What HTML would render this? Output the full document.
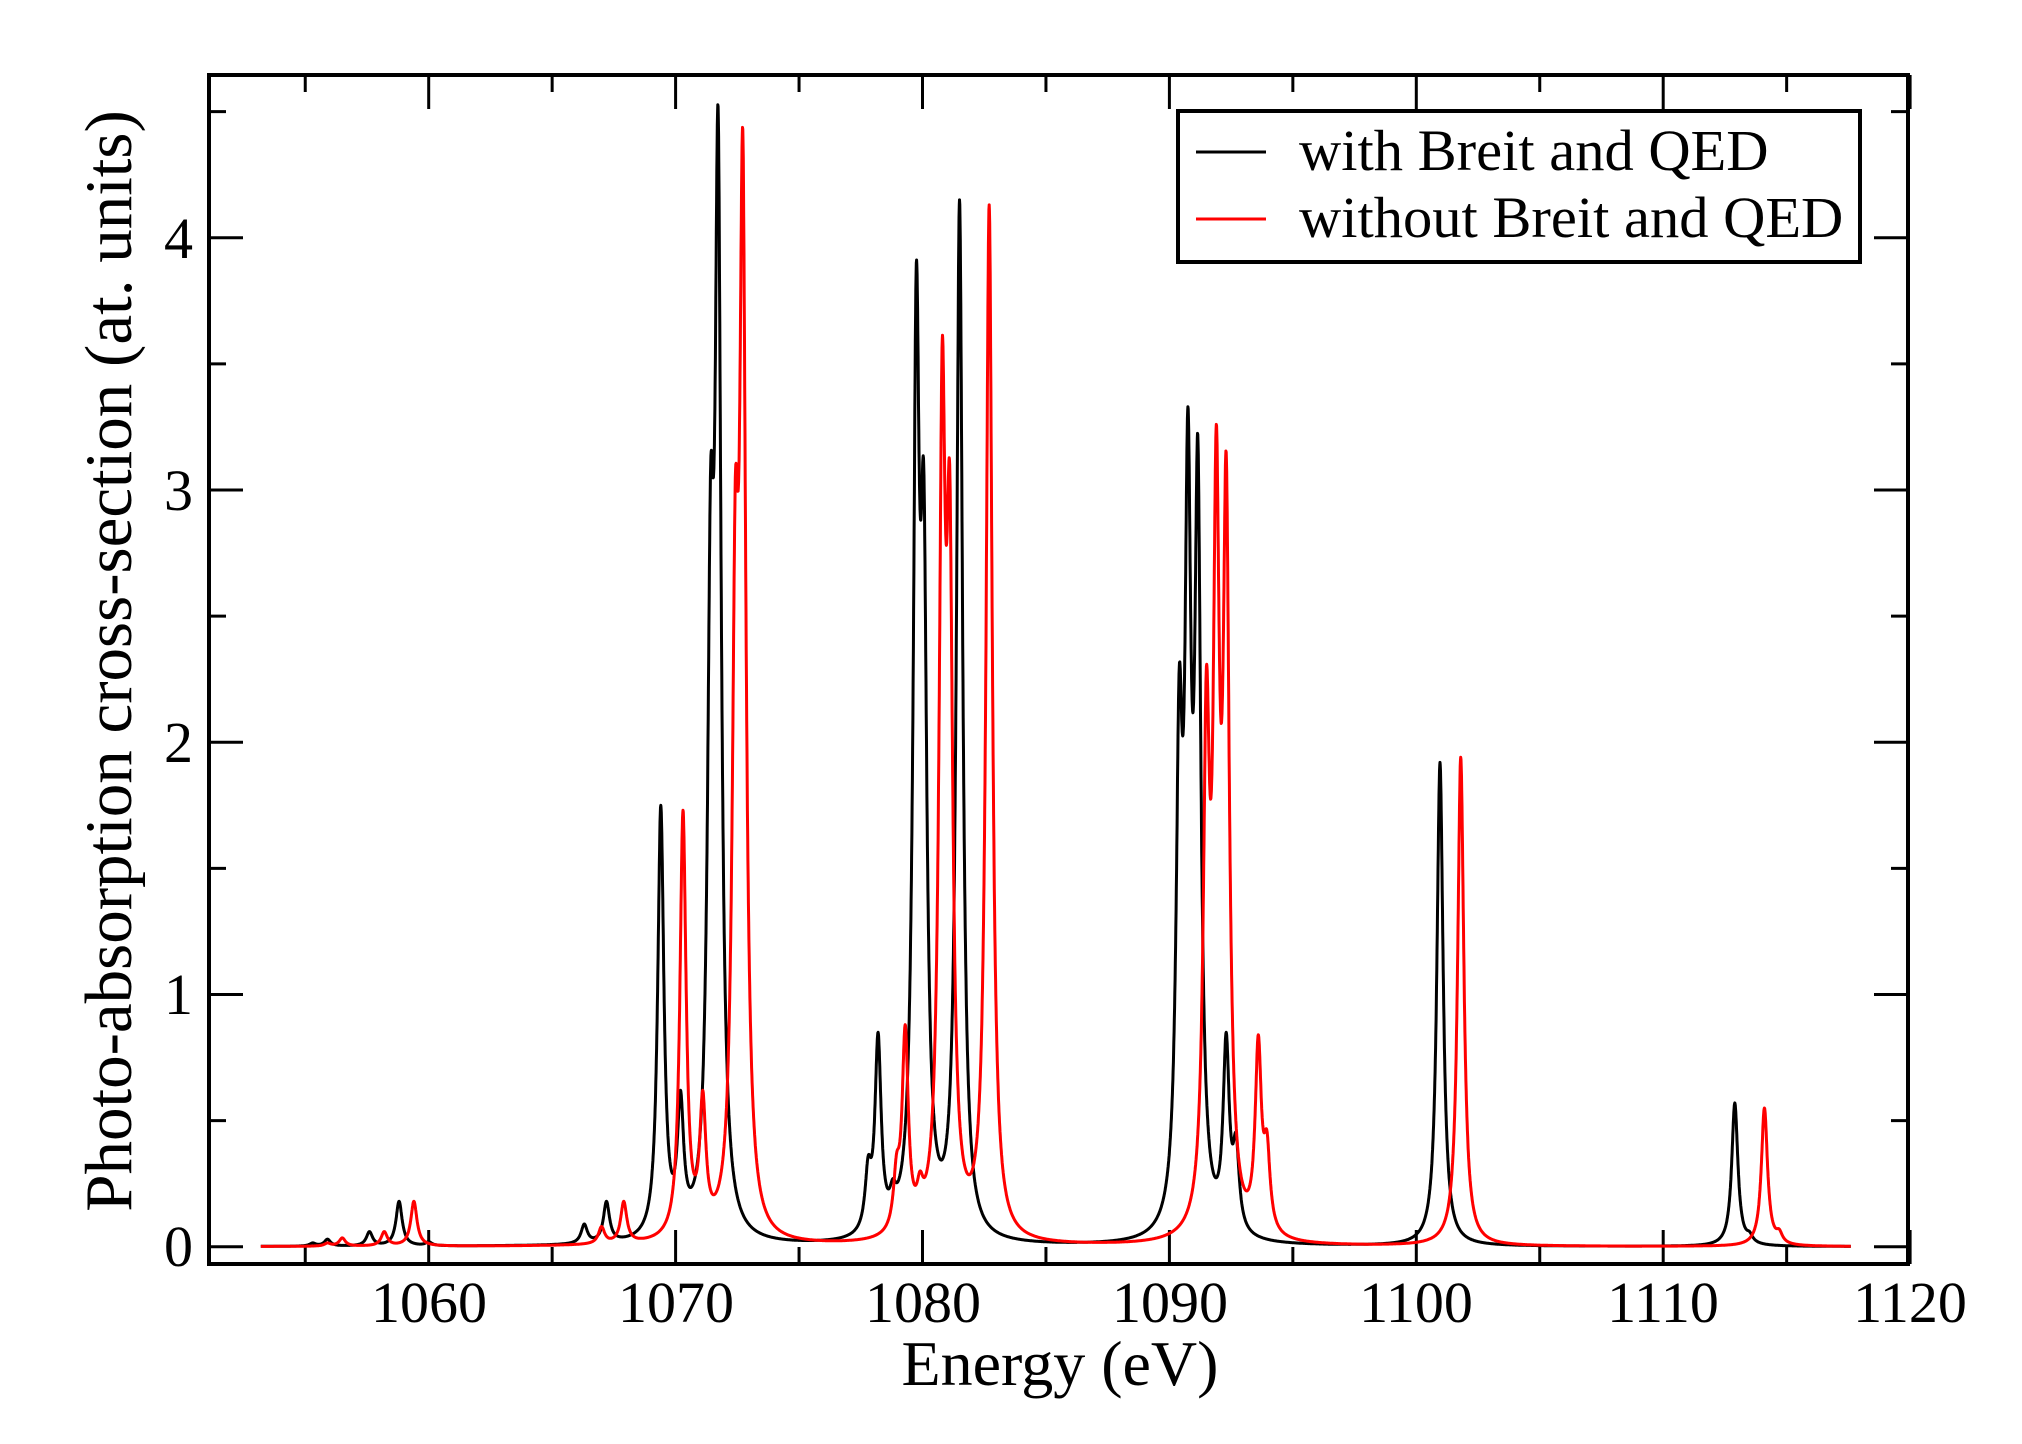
<!DOCTYPE html>
<html><head><meta charset="utf-8">
<style>
html,body{margin:0;padding:0;background:#fff;}
svg{display:block;}
text{font-family:"Liberation Serif",serif;fill:#000;}
</style></head>
<body>
<svg id="s" width="2022" height="1444" viewBox="0 0 2022 1444" xmlns="http://www.w3.org/2000/svg">
<rect width="2022" height="1444" fill="#fff"/>
<g id="ticks" stroke="#000" stroke-width="3"></g>
<path id="black" fill="none" stroke="#000" stroke-width="3" stroke-linejoin="round"/>
<path id="red" fill="none" stroke="#f00" stroke-width="3" stroke-linejoin="round"/>
<rect x="209" y="75" width="1699" height="1189" fill="none" stroke="#000" stroke-width="4"/>
<g font-size="58" text-anchor="middle">
<text x="429" y="1322">1060</text>
<text x="676" y="1322">1070</text>
<text x="923" y="1322">1080</text>
<text x="1170" y="1322">1090</text>
<text x="1416" y="1322">1100</text>
<text x="1663" y="1322">1110</text>
<text x="1910" y="1322">1120</text>
</g>
<g font-size="58" text-anchor="end">
<text x="193" y="1266">0</text>
<text x="193" y="1014">1</text>
<text x="193" y="762">2</text>
<text x="193" y="510">3</text>
<text x="193" y="258">4</text>
</g>
<text x="1060" y="1385" font-size="64" text-anchor="middle">Energy (eV)</text>
<text transform="translate(131,661) rotate(-90)" font-size="67" text-anchor="middle">Photo-absorption cross-section (at. units)</text>
<rect x="1178" y="111" width="682" height="151" fill="#fff" stroke="#000" stroke-width="4"/>
<line x1="1196" y1="152" x2="1266" y2="152" stroke="#000" stroke-width="3"/>
<line x1="1196" y1="219" x2="1266" y2="219" stroke="#f00" stroke-width="3"/>
<g font-size="58.5">
<text x="1299" y="170">with Breit and QED</text>
<text x="1299" y="237">without Breit and QED</text>
</g>
</svg>
<script>
(function(){
var L=209,R=1908,T=75,B=1264;
var X0=428.7,PX=24.69,Y0=1246.7,PY=252.25;
function sx(e){return X0+(e-1060)*PX;}
function sy(v){return Y0-v*PY;}
var tk=document.getElementById('ticks'),h='';
for(var e=1055;e<=1120;e+=5){var x=sx(e),len=(e%10==0)?34:17;
 h+='<line x1="'+x+'" y1="'+B+'" x2="'+x+'" y2="'+(B-len)+'"/>';
 h+='<line x1="'+x+'" y1="'+T+'" x2="'+x+'" y2="'+(T+len)+'"/>';}
for(var v=0;v<=4.5;v+=0.5){var y=sy(v),len=(Math.abs(v-Math.round(v))<1e-6)?34:17;
 h+='<line x1="'+L+'" y1="'+y+'" x2="'+(L+len)+'" y2="'+y+'"/>';
 h+='<line x1="'+R+'" y1="'+y+'" x2="'+(R-len)+'" y2="'+y+'"/>';}
tk.innerHTML=h;
var g=0.15;
var blk=[[1055.3,0.015],[1055.9,0.03],[1057.6,0.06],[1058.8,0.18],[1060.0,0.02],[1066.3,0.09],[1067.2,0.18],
[1069.4,1.75],[1070.2,0.62],[1071.42,3.1],[1071.72,4.52],[1077.8,0.36],[1078.2,0.85],[1078.8,0.27],
[1079.75,3.9],[1080.05,3.1],[1081.5,4.15],[1090.4,2.3],[1090.75,3.33],[1091.15,3.22],[1092.3,0.85],[1092.7,0.45],
[1100.96,1.92],[1112.9,0.57],[1113.5,0.06]];
var red=[[1055.9,0.015],[1056.5,0.035],[1058.2,0.06],[1059.4,0.18],[1067.0,0.08],[1067.9,0.18],
[1070.3,1.73],[1071.1,0.62],[1072.42,3.05],[1072.72,4.43],[1078.95,0.37],[1079.3,0.88],[1079.9,0.3],
[1080.8,3.6],[1081.1,3.1],[1082.7,4.13],[1091.5,2.3],[1091.9,3.26],[1092.3,3.15],[1093.6,0.84],[1093.95,0.46],
[1101.8,1.94],[1114.1,0.55],[1114.7,0.07]];
function fit(P){var A=P.map(function(p){return p[1];});
 function S(x){var s=0;for(var i=0;i<P.length;i++){var d=(x-P[i][0])/g;s+=A[i]/(1+d*d);}return s;}
 for(var it=0;it<40;it++){for(var i=0;i<P.length;i++){A[i]=Math.max(0.002,A[i]+0.6*(P[i][1]-S(P[i][0])));}}
 return S;}
function path(P){var S=fit(P),d='';
 for(var e=1053.2;e<=1117.6;e+=0.01){var x=sx(e),y=sy(S(e));d+=(d?'L':'M')+x.toFixed(1)+' '+y.toFixed(1);}
 return d;}
document.getElementById('black').setAttribute('d',path(blk));
document.getElementById('red').setAttribute('d',path(red));
})();
</script>
</body></html>
